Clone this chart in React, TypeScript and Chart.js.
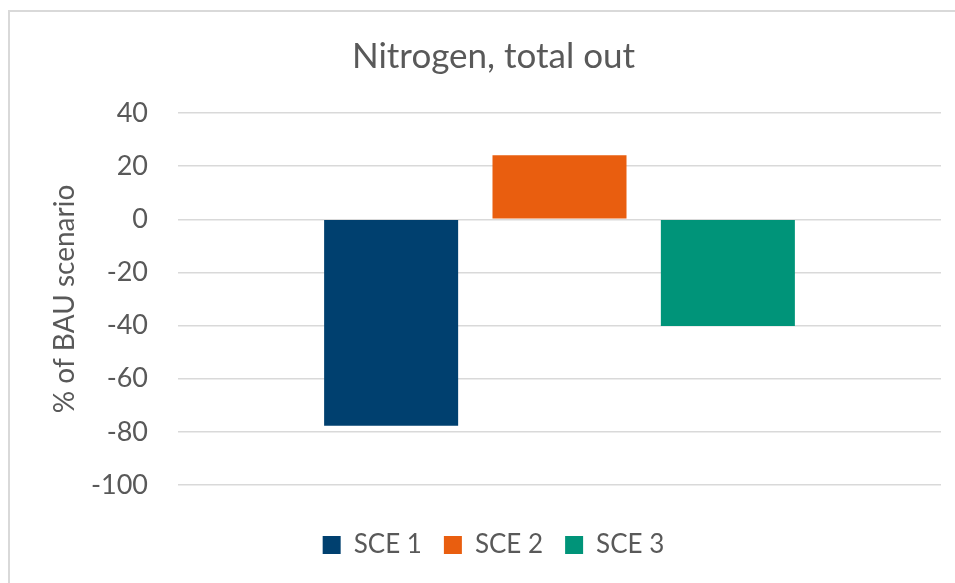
import React, { useEffect, useRef } from "react";
import { Chart, registerables } from "chart.js";

Chart.register(...registerables);

const chartTitle = "Nitrogen, total out";
const axisTitle = "% of BAU scenario";
const categories = [""];
const seriesNames = ["SCE 1", "SCE 2", "SCE 3"];
const sce1 = [-77.7];
const sce2 = [24.1];
const sce3 = [-40.2];
const seriesColors = ["#00406F", "#E95E0F", "#009479"];
const yMin = -100;
const yMax = 40;
const yStep = 20;

const FONT = "Lato, 'Open Sans', sans-serif";
const TEXT = "#595959";

export default function App() {
  const ref = useRef<HTMLCanvasElement | null>(null);

  useEffect(() => {
    document.body.style.overflow = "hidden";
    const canvas = ref.current;
    if (!canvas) return;
    const values = [sce1, sce2, sce3];
    const chart = new Chart(canvas, {
      type: "bar",
      data: {
        labels: categories,
        datasets: seriesNames.map((name, i) => ({
          label: name,
          data: values[i],
          backgroundColor: seriesColors[i],
          borderWidth: 0,
          categoryPercentage: 0.662,
          barPercentage: 0.796,
        })),
      },
      options: {
        animation: false,
        responsive: false,
        maintainAspectRatio: false,
        layout: { padding: { left: 46, right: 14, top: 10, bottom: 15 } },
        plugins: {
          title: {
            display: true,
            text: chartTitle,
            color: TEXT,
            font: { family: FONT, size: 35, weight: "normal" },
            padding: { top: 26, bottom: 35 },
          },
          legend: {
            position: "bottom",
            labels: {
              color: TEXT,
              font: { family: FONT, size: 26 },
              boxWidth: 18,
              boxHeight: 18,
              padding: 22,
            },
          },
          tooltip: { enabled: false },
        },
        scales: {
          x: {
            display: true,
            ticks: { display: false },
            grid: { display: false },
            border: { display: false },
            afterFit: (scale: any) => {
              scale.height = 25;
            },
          },
          y: {
            min: yMin,
            max: yMax,
            afterFit: (scale: any) => {
              scale.width = 132;
            },
            ticks: {
              stepSize: yStep,
              color: TEXT,
              font: { family: FONT, size: 27 },
              padding: 30,
            },
            grid: { color: "#d9d9d9", lineWidth: 1.5, drawTicks: false },
            border: { display: false },
            title: {
              display: true,
              text: axisTitle,
              color: TEXT,
              font: { family: FONT, size: 28 },
              padding: { top: 2, bottom: 0 },
            },
          },
        },
      },
    });
    return () => chart.destroy();
  }, []);

  return (
    <div>
      <div
        style={{
          position: "fixed",
          left: 8,
          top: 10,
          width: 1200,
          height: 1200,
          border: "2px solid #d9d9d9",
          boxSizing: "border-box",
        }}
      />
      <canvas
        ref={ref}
        width={955}
        height={583}
        style={{ position: "fixed", left: 0, top: 0, width: 955, height: 583 }}
      />
    </div>
  );
}
